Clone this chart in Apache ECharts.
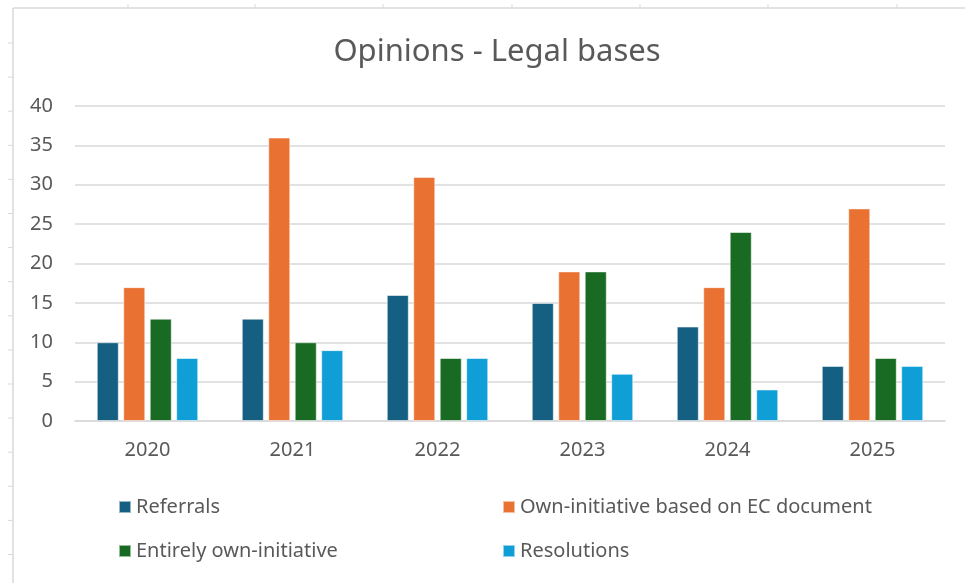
<!DOCTYPE html>
<html>
<head>
<meta charset="utf-8">
<script src="https://cdn.jsdelivr.net/npm/echarts@6/dist/echarts.min.js"></script>
<style>
html,body{margin:0;padding:0;background:#fff;}
#c{width:965px;height:583px;}
</style>
</head>
<body>
<div id="c"></div>
<script>
const categories = ['2020', '2021', '2022', '2023', '2024', '2025'];
const referrals = [10, 13, 16, 15, 12, 7];
const ownInitiativeEC = [17, 36, 31, 19, 17, 27];
const entirelyOwn = [13, 10, 8, 19, 24, 8];
const resolutions = [8, 9, 8, 6, 4, 7];
const seriesNames = ['Referrals', 'Own-initiative based on EC document', 'Entirely own-initiative', 'Resolutions'];
const colors = ['#156082', '#E97132', '#196B24', '#0F9ED5'];

const chart = echarts.init(document.getElementById('c'), null, {renderer: 'canvas'});
const FONT = '"Noto Sans", "Open Sans", sans-serif';
const TXT = '#595959';

// spreadsheet cell-border decorations
const deco = [];
deco.push({type: 'line', shape: {x1: 13, y1: 8, x2: 965, y2: 8}, style: {stroke: '#d9d9d9', lineWidth: 1.5}, silent: true});
deco.push({type: 'line', shape: {x1: 13, y1: 8, x2: 13, y2: 583}, style: {stroke: '#d9d9d9', lineWidth: 1.5}, silent: true});
[128, 255, 383, 512, 640, 768, 897].forEach(x => deco.push({type: 'line', shape: {x1: x, y1: 4, x2: x, y2: 8}, style: {stroke: '#d9d9d9', lineWidth: 1}, silent: true}));
for (let i = 0; i < 16; i++) {
  const y = 43 + i * 34.1;
  deco.push({type: 'line', shape: {x1: 8, y1: y, x2: 13, y2: y}, style: {stroke: '#d9d9d9', lineWidth: 1}, silent: true});
}

const mk = (i, data) => ({
  name: seriesNames[i],
  type: 'bar',
  data: data,
  itemStyle: {color: colors[i], borderColor: 'rgba(255,255,255,0.55)', borderWidth: 1},
  barGap: '20%',
  barCategoryGap: '30%'
});

chart.setOption({
  animation: false,
  backgroundColor: '#ffffff',
  graphic: deco,
  title: {
    text: 'Opinions - Legal bases',
    left: 492, top: 32, textAlign: 'center',
    textStyle: {fontFamily: FONT, fontSize: 31, fontWeight: 'normal', color: TXT}
  },
  legend: [
    {
      data: [seriesNames[0], seriesNames[2]],
      orient: 'vertical', left: 113, top: 492, itemGap: 24,
      itemWidth: 12, itemHeight: 12, icon: 'rect',
      textStyle: {fontFamily: FONT, fontSize: 20, color: TXT}
    },
    {
      data: [seriesNames[1], seriesNames[3]],
      orient: 'vertical', left: 497, top: 492, itemGap: 24,
      itemWidth: 12, itemHeight: 12, icon: 'rect',
      textStyle: {fontFamily: FONT, fontSize: 20, color: TXT}
    }
  ],
  grid: {left: 75, right: 20, top: 106, bottom: 162, containLabel: false},
  xAxis: {
    type: 'category',
    data: categories,
    axisLine: {lineStyle: {color: '#d9d9d9', width: 1.5}},
    axisTick: {show: false},
    axisLabel: {fontFamily: FONT, fontSize: 20, color: TXT, margin: 19}
  },
  yAxis: {
    type: 'value', min: 0, max: 40, interval: 5,
    axisLine: {show: false}, axisTick: {show: false},
    splitLine: {lineStyle: {color: '#d9d9d9', width: 1.5}},
    axisLabel: {fontFamily: FONT, fontSize: 20, color: TXT, margin: 22}
  },
  series: [mk(0, referrals), mk(1, ownInitiativeEC), mk(2, entirelyOwn), mk(3, resolutions)]
});
</script>
</body>
</html>
